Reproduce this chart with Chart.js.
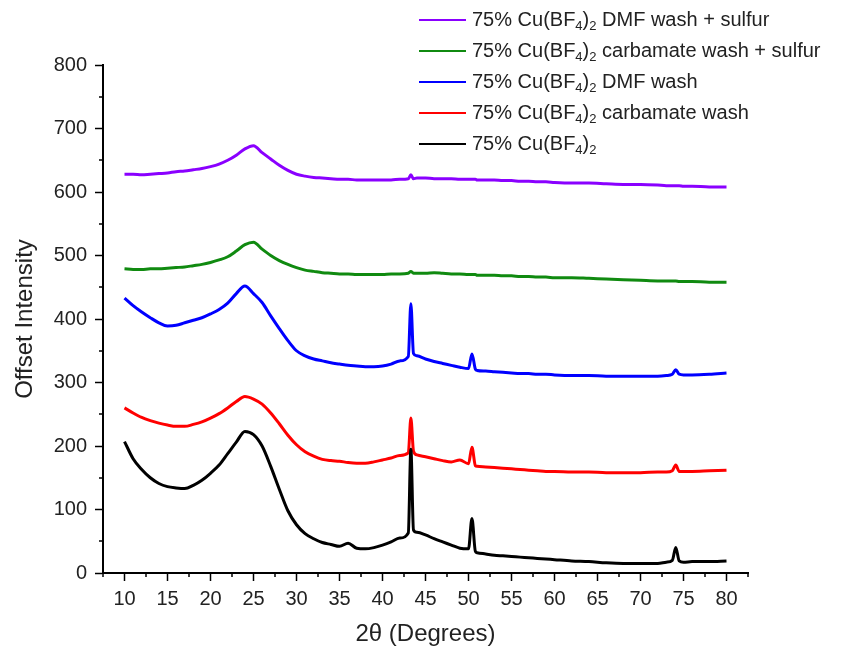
<!DOCTYPE html>
<html>
<head>
<meta charset="utf-8">
<title>XRD offset patterns</title>
<script src="https://cdn.jsdelivr.net/npm/chart.js@4.4.1/dist/chart.umd.min.js"></script>
<style>
    html, body { margin: 0; padding: 0; background: #fff; }
    #xrdChart { display: block; }
</style>
</head>
<body>
<canvas id="xrdChart" width="845" height="653"></canvas>
<script>
// 2-theta positions (degrees) that the values below were read at
const twoTheta = [
    10, 11, 12, 13, 14, 15, 16, 17, 18, 19,
    20, 21, 22, 23, 24, 25, 26, 27, 28, 29,
    30, 31, 32, 33, 34, 35, 36, 37, 38, 39,
    40, 41, 42, 43, 43.3, 43.6, 44, 45, 46, 47,
    48, 49, 50, 50.4, 50.8, 51, 52, 53, 54, 55,
    56, 57, 58, 59, 60, 62, 64, 66, 68, 70,
    72, 73, 73.7, 74.1, 74.5, 75, 76, 78, 80
];

// offset intensities, one per angle
const cuBF4 = [
    207, 180, 163, 150, 141, 136, 134, 133, 138, 146,
    157, 170, 188, 206, 223, 218, 200, 168, 132, 98,
    76, 62, 54, 48, 45, 42, 47, 39, 38, 40,
    44, 49, 55, 63, 195, 68, 64, 60, 54, 49,
    44, 39, 38, 86, 34, 32, 30, 28, 27, 26,
    25, 24, 23, 22, 21, 19, 18, 16, 15, 15,
    15, 17, 20, 40, 19, 17, 18, 18, 19
];
const carbamateWash = [
    260, 252, 245, 240, 236, 233, 231, 231, 234, 238,
    244, 251, 260, 270, 278, 274, 266, 252, 235, 217,
    202, 191, 184, 179, 177, 176, 174, 173, 173, 175,
    178, 181, 185, 189, 244, 192, 186, 183, 180, 177,
    175, 178, 172, 198, 169, 168, 167, 166, 165, 164,
    163, 162, 161, 160, 160, 159, 159, 158, 158, 158,
    159, 159, 161, 170, 160, 160, 160, 161, 162
];
const dmfWash = [
    433, 421, 411, 402, 394, 389, 390, 394, 398, 402,
    408, 415, 425, 440, 452, 440, 426, 405, 385, 366,
    350, 342, 337, 334, 331, 329, 327, 326, 325, 325,
    326, 329, 334, 341, 424, 346, 342, 337, 333, 330,
    327, 324, 322, 345, 321, 319, 318, 317, 316, 315,
    314, 314, 313, 313, 312, 311, 311, 310, 310, 310,
    310, 311, 313, 320, 313, 312, 312, 313, 315
];
const carbamateSulfur = [
    479, 478, 478, 479, 479, 480, 481, 482, 484, 486,
    489, 493, 498, 507, 517, 521, 510, 500, 492, 486,
    481, 477, 475, 473, 472, 471, 471, 470, 470, 470,
    470, 471, 471, 472, 475, 472, 472, 472, 473, 472,
    471, 471, 470, 470, 470, 469, 469, 469, 468, 468,
    467, 467, 466, 466, 465, 465, 464, 463, 462, 461,
    460, 460, 460, 460, 459, 459, 459, 458, 458
];
const dmfSulfur = [
    628, 628, 627, 628, 629, 630, 632, 633, 635, 637,
    640, 644, 650, 658, 668, 673, 662, 652, 642, 634,
    628, 625, 623, 622, 621, 620, 620, 619, 619, 619,
    619, 619, 620, 621, 627, 621, 622, 622, 621, 621,
    621, 620, 620, 620, 620, 619, 619, 619, 618, 618,
    617, 617, 616, 616, 615, 614, 614, 613, 612, 612,
    611, 610, 610, 610, 610, 609, 609, 608, 608
];

// legend order (top to bottom) and the text after "75% Cu(BF4)2"
const seriesNames = ['DMF wash + sulfur', 'carbamate wash + sulfur', 'DMF wash', 'carbamate wash', ''];
const seriesColors = ['#8a00ff', '#108a10', '#0000ff', '#ff0000', '#000000'];
const seriesValues = [dmfSulfur, carbamateSulfur, dmfWash, carbamateWash, cuBF4];

const FONT = "'Liberation Sans', Arial, sans-serif";

// custom legend so the subscripts in Cu(BF4)2 can be drawn
const subscriptLegend = {
    id: 'subscriptLegend',
    afterDraw(chart) {
        const ctx = chart.ctx;
        ctx.save();
        ctx.textBaseline = 'middle';
        seriesNames.forEach((name, i) => {
            const y = 20 + i * 31;
            ctx.strokeStyle = seriesColors[i];
            ctx.lineWidth = 2;
            ctx.beginPath();
            ctx.moveTo(419, y);
            ctx.lineTo(466, y);
            ctx.stroke();

            let x = 472;
            const parts = [
                ['75% Cu(BF', false], ['4', true], [')', false], ['2', true],
                [name ? ' ' + name : '', false]
            ];
            ctx.fillStyle = '#222';
            parts.forEach(([txt, sub]) => {
                ctx.font = (sub ? '13px ' : '20px ') + FONT;
                ctx.fillText(txt, x, sub ? y + 6 : y);
                x += ctx.measureText(txt).width;
            });
        });
        ctx.restore();
    }
};

// shorter minor ticks between the labelled ones
const minorTicks = {
    id: 'minorTicks',
    afterDraw(chart) {
        const {ctx, scales: {x, y}} = chart;
        ctx.save();
        ctx.strokeStyle = '#000';
        ctx.lineWidth = 1.5;
        ctx.beginPath();
        x.ticks.forEach(t => {
            if (t.value % 5 !== 0) {
                const px = Math.round(x.getPixelForValue(t.value));
                ctx.moveTo(px, x.top);
                ctx.lineTo(px, x.top + 4);
            }
        });
        y.ticks.forEach(t => {
            if (t.value % 100 !== 0) {
                const py = Math.round(y.getPixelForValue(t.value));
                ctx.moveTo(y.right, py);
                ctx.lineTo(y.right - 4, py);
            }
        });
        ctx.stroke();
        ctx.restore();
    }
};

function createDataset(i) {
    return {
        label: '75% Cu(BF4)2 ' + seriesNames[i],
        data: twoTheta.map((t, k) => ({x: t, y: seriesValues[i][k]})),
        borderColor: seriesColors[i],
        backgroundColor: 'transparent',
        borderWidth: 3,
        pointRadius: 0,
        cubicInterpolationMode: 'monotone',
        order: seriesNames.length - i
    };
}

function axisOptions(extra) {
    return Object.assign({
        type: 'linear',
        border: {color: '#000', width: 2}
    }, extra);
}

new Chart(document.getElementById('xrdChart'), {
    type: 'line',
    data: {datasets: seriesNames.map((_, i) => createDataset(i))},
    plugins: [subscriptLegend, minorTicks],
    options: {
        responsive: false,
        animation: false,
        devicePixelRatio: 1,
        layout: {padding: {top: 65, right: 97, left: 0, bottom: 0}},
        plugins: {legend: {display: false}, tooltip: {enabled: false}},
        scales: {
            x: axisOptions({
                min: 7.5,
                max: 82.5,
                grid: {
                    drawOnChartArea: false, tickLength: 8, tickWidth: 1.5,
                    tickColor: c => (c.tick && c.tick.value % 5 === 0) ? '#000' : 'rgba(0,0,0,0)'
                },
                ticks: {
                    stepSize: 2.5, autoSkip: false, maxRotation: 0, padding: 6,
                    color: '#222', font: {family: FONT, size: 20},
                    callback: v => (v % 5 === 0 && v >= 10 && v <= 80) ? v : ''
                },
                title: {
                    display: true, text: '2θ (Degrees)', color: '#222',
                    font: {family: FONT, size: 24}, padding: {top: 0, bottom: 4}
                },
                afterFit: s => { s.height = 80; }
            }),
            y: axisOptions({
                min: 0,
                max: 800,
                grid: {
                    drawOnChartArea: false, tickLength: 8, tickWidth: 1.5,
                    tickColor: c => (c.tick && c.tick.value % 100 === 0) ? '#000' : 'rgba(0,0,0,0)'
                },
                ticks: {
                    stepSize: 50, autoSkip: false, padding: 8,
                    color: '#222', font: {family: FONT, size: 20},
                    callback: v => v % 100 === 0 ? v : ''
                },
                title: {
                    display: true, text: 'Offset Intensity', color: '#222',
                    font: {family: FONT, size: 24}, padding: {top: 11, bottom: 0}
                },
                afterFit: s => { s.width = 103; }
            })
        }
    }
});
</script>
</body>
</html>
